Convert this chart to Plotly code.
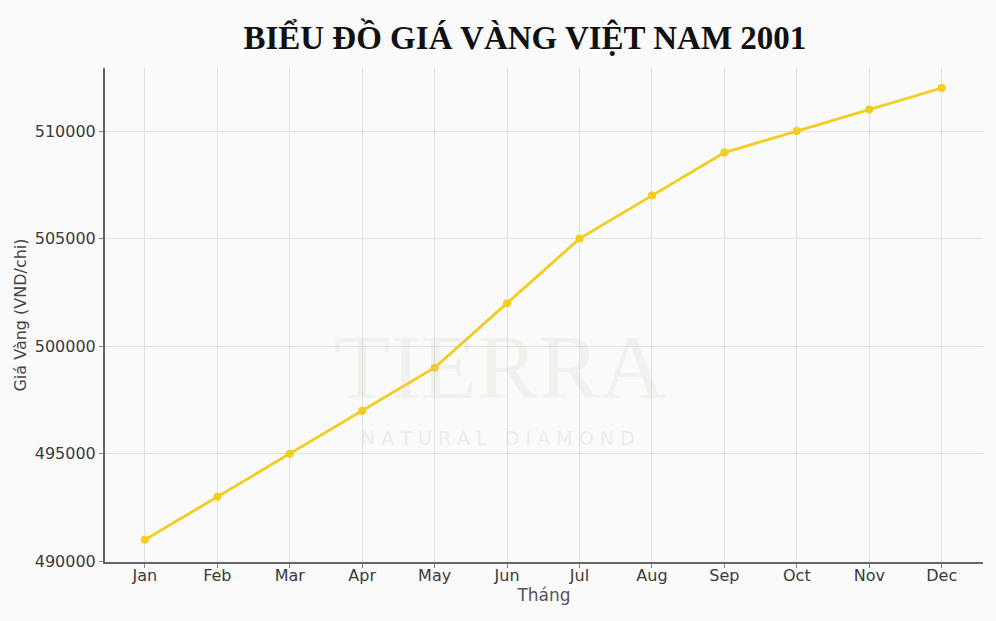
import plotly.graph_objects as go

months = ["Jan", "Feb", "Mar", "Apr", "May", "Jun", "Jul", "Aug", "Sep", "Oct", "Nov", "Dec"]
prices = [491000, 493000, 495000, 497000, 499000, 502000, 505000, 507000, 509000, 510000, 511000, 512000]
y_ticks = [490000, 495000, 500000, 505000, 510000]

fig = go.Figure()
fig.add_trace(go.Scatter(
    x=list(range(len(months))), y=prices, mode="lines+markers",
    line=dict(color="#F2CC1E", width=2.8),
    marker=dict(color="#F2CC1E", size=8),
    showlegend=False,
))

axis_font = dict(family="DejaVu Sans", size=16, color="#3a3a3a")
fig.update_layout(
    width=996, height=621,
    paper_bgcolor="#fafafa", plot_bgcolor="#fafafa",
    margin=dict(l=105, r=13, t=68, b=59),
    title=dict(text="<b>BIỂU ĐỒ GIÁ VÀNG VIỆT NAM 2001</b>",
               font=dict(family="Liberation Serif", size=33, color="#111111"),
               x=0.527, xanchor="center", y=0.94, yanchor="middle"),
    xaxis=dict(
        tickmode="array", tickvals=list(range(len(months))), ticktext=months,
        range=[-0.55, 11.57], showgrid=True, gridcolor="#e2e2e2", gridwidth=1,
        showline=True, linecolor="#666666", linewidth=2,
        ticks="outside", ticklen=4, tickcolor="#888888",
        tickfont=axis_font, zeroline=False, ticklabelstandoff=-6,
        title=dict(text="Tháng", font=dict(family="DejaVu Sans", size=17, color="#555555"), standoff=4),
    ),
    yaxis=dict(
        tickmode="array", tickvals=y_ticks, ticktext=[str(v) for v in y_ticks],
        range=[489970, 512930], showgrid=True, gridcolor="#e2e2e2", gridwidth=1,
        showline=True, linecolor="#666666", linewidth=2,
        ticks="outside", ticklen=4, tickcolor="#888888",
        tickfont=axis_font, zeroline=False,
        title=dict(text="Giá Vàng (VND/chi)", font=dict(family="DejaVu Sans", size=16, color="#444444"), standoff=4),
    ),
    annotations=[
        dict(text="TIERRA", xref="paper", yref="paper", x=0.45, y=0.395, showarrow=False,
             font=dict(family="Liberation Serif", size=92, color="rgba(200,190,175,0.16)")),
        dict(text="N A T U R A L   D I A M O N D", xref="paper", yref="paper", x=0.448, y=0.225, showarrow=False,
             font=dict(family="DejaVu Sans", size=19, color="rgba(200,190,175,0.25)")),
    ],
)

fig.write_html("out.html", config={"displayModeBar": False},
               post_script="document.body.style.margin='0';document.body.style.background='#fafafa';")
